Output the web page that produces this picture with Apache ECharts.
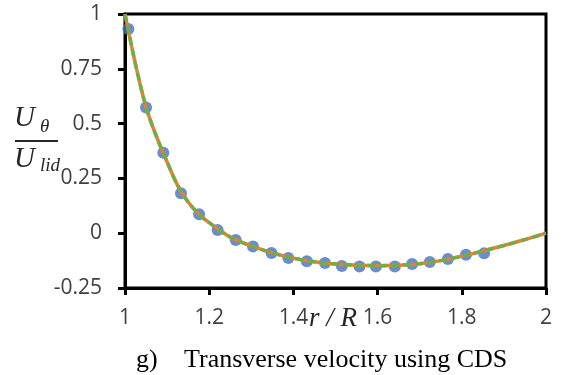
<!DOCTYPE html>
<html>
<head>
<meta charset="utf-8">
<script src="https://cdn.jsdelivr.net/npm/echarts@6/dist/echarts.min.js"></script>
<style>
html,body{margin:0;padding:0;background:#fff;}
#chart{width:573px;height:375px;}
</style>
</head>
<body>
<div id="chart"></div>
<script>
// Data points (blue markers)
var pointX = [1.008, 1.050, 1.091, 1.133, 1.176, 1.220, 1.263, 1.304, 1.348, 1.388, 1.432, 1.475, 1.515, 1.557, 1.596, 1.641, 1.682, 1.724, 1.767, 1.810, 1.853];
var pointY = [0.932, 0.573, 0.367, 0.182, 0.086, 0.015, -0.031, -0.061, -0.090, -0.113, -0.128, -0.136, -0.150, -0.152, -0.152, -0.152, -0.140, -0.131, -0.118, -0.098, -0.092];
// Curves (orange solid and green dashed, overlapping)
var curveX = [1.0, 1.025, 1.05, 1.075, 1.1, 1.125, 1.15, 1.175, 1.2, 1.25, 1.3, 1.35, 1.4, 1.45, 1.5, 1.55, 1.6, 1.65, 1.7, 1.75, 1.8, 1.85, 1.9, 1.95, 2.0];
var orangeY = [1.0, 0.77, 0.575, 0.44, 0.325, 0.218, 0.142, 0.088, 0.048, -0.018, -0.058, -0.09, -0.114, -0.13, -0.141, -0.146, -0.148, -0.146, -0.139, -0.125, -0.105, -0.081, -0.056, -0.029, 0.0];
var greenY  = [1.0, 0.77, 0.575, 0.44, 0.325, 0.218, 0.142, 0.088, 0.048, -0.018, -0.058, -0.09, -0.114, -0.13, -0.141, -0.146, -0.148, -0.146, -0.139, -0.125, -0.105, -0.081, -0.056, -0.029, 0.0];
var yTicks = [-0.25, 0, 0.25, 0.5, 0.75, 1];
var xTicks = [1, 1.2, 1.4, 1.6, 1.8, 2];
var xName = 'r / R';
var caption = 'Transverse velocity using CDS';
var captionTag = 'g)';

function zip(xs, ys){ return xs.map(function(x,i){ return [x, ys[i]]; }); }

var chart = echarts.init(document.getElementById('chart'), null, {renderer:'canvas'});
var labelFont = {fontFamily:'Open Sans', fontSize:21, color:'#404040'};
var mathFont = 'Liberation Serif';
chart.setOption({
  animation:false,
  backgroundColor:'#fff',
  grid:{left:125, right:27, top:14, bottom:87, show:true, borderColor:'#000', borderWidth:3, backgroundColor:'transparent'},
  xAxis:{
    type:'value', min:xTicks[0], max:xTicks[xTicks.length-1], interval:0.2,
    axisLine:{show:true, onZero:false, lineStyle:{color:'#000', width:3}},
    axisTick:{show:true, inside:false, length:7, lineStyle:{color:'#000', width:3}},
    splitLine:{show:false},
    axisLabel:Object.assign({margin:20, formatter:function(v){return String(+v.toFixed(2));}}, labelFont)
  },
  yAxis:{
    type:'value', min:yTicks[0], max:yTicks[yTicks.length-1], interval:0.25,
    axisLine:{show:true, onZero:false, lineStyle:{color:'#000', width:3}},
    axisTick:{show:true, inside:false, length:7, lineStyle:{color:'#000', width:3}},
    splitLine:{show:false},
    axisLabel:Object.assign({margin:23, formatter:function(v){return String(+v.toFixed(2));}}, labelFont)
  },
  series:[
    {type:'scatter', data:zip(pointX, pointY), symbol:'circle', symbolSize:12, itemStyle:{color:'#4472C4'}, z:2},
    {type:'line', data:zip(curveX, orangeY), smooth:0.3, showSymbol:false, lineStyle:{color:'#ED7D31', width:3.5}, z:3},
    {type:'line', data:zip(curveX, greenY), smooth:0.3, showSymbol:false, lineStyle:{color:'#70AD47', width:3.5, type:[8,4]}, z:4}
  ],
  graphic:[
    {type:'text', left:14, top:104, style:{text:'U', font:'italic 29px "Liberation Serif"', fill:'#262626'}},
    {type:'text', left:40, top:117, style:{text:'\u03b8', font:'italic 19px "Liberation Serif"', fill:'#262626'}},
    {type:'line', shape:{x1:15, y1:141, x2:58, y2:141}, style:{stroke:'#262626', lineWidth:2}},
    {type:'text', left:14, top:145, style:{text:'U', font:'italic 29px "Liberation Serif"', fill:'#262626'}},
    {type:'text', left:40, top:156, style:{text:'lid', font:'italic 19px "Liberation Serif"', fill:'#262626'}},
    {type:'text', left:309, top:305, style:{text:xName, font:'italic 27px "Liberation Serif"', fill:'#262626'}},
    {type:'text', left:136, top:347, style:{text:captionTag, font:'26px "Liberation Serif"', fill:'#000'}},
    {type:'text', left:184, top:347, style:{text:caption, font:'26px "Liberation Serif"', fill:'#000'}}
  ]
});
</script>
</body>
</html>
